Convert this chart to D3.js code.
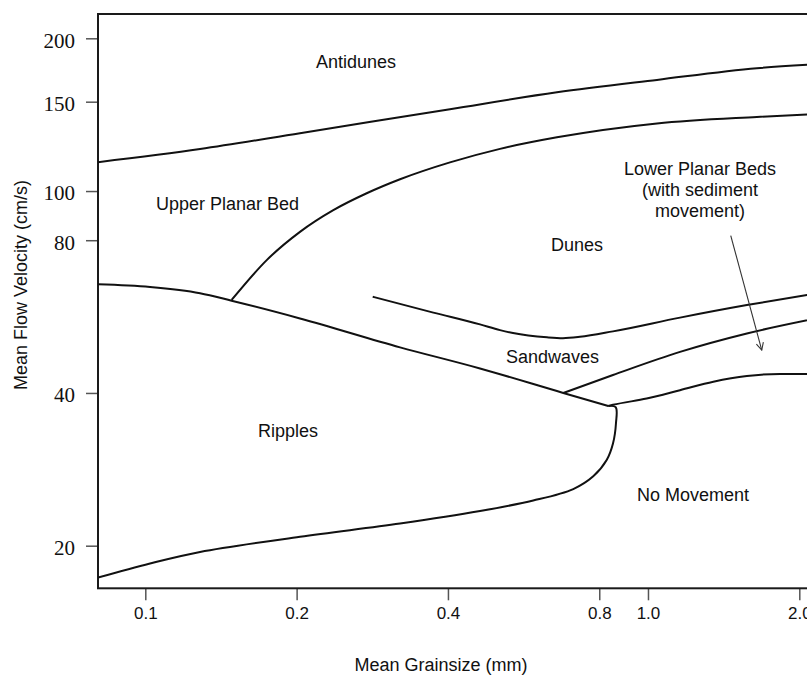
<!DOCTYPE html>
<html>
<head>
<meta charset="utf-8">
<script src="https://cdn.jsdelivr.net/npm/d3@7"></script>
<style>
  html, body { margin: 0; padding: 0; background: #fff; }
  svg { display: block; }
</style>
</head>
<body>
<svg id="chart" width="807" height="675"></svg>
<script>
// ---------- DATA ----------
// x: mean grainsize (mm), y: mean flow velocity (cm/s)
const xTickValues = [0.1, 0.2, 0.4, 0.8, 1.0, 2.0];
const xTickLabels = ["0.1", "0.2", "0.4", "0.8", "1.0", "2.0"];
const yTickValues = [20, 40, 80, 100, 150, 200];
const yTickLabels = ["20", "40", "80", "100", "150", "200"];

const antidunesBoundary = [[0.0805,114],[0.1285,121],[0.2031,130],[0.4037,145],[0.659,156.5],[1.042,165.6],[1.647,174.6],[2.2,178]];
const upperPlanarDunesBoundary = [[0.1485,61.0],[0.1744,73.1],[0.2031,83.1],[0.2366,91.7],[0.2757,99.0],[0.3212,105.5],[0.4037,113.9],[0.5077,121.1],[0.659,127.6],[1.042,135.9],[1.647,140.0],[2.2,142.0]];
const ripplesUpperBoundary = [[0.0805,65.5],[0.1022,64.7],[0.1285,62.9],[0.1485,60.8],[0.2031,56.1],[0.3212,49.2],[0.4633,44.7],[0.6785,40.0],[0.8337,37.7]];
const dunesSandwavesBoundary = [[0.2834,61.9],[0.3741,57.6],[0.4633,54.6],[0.5077,53.2],[0.5389,52.5],[0.6297,51.5],[0.6775,51.3],[0.7321,51.6],[0.8519,52.9],[1.158,56.3],[1.573,59.6],[2.072,62.4],[2.2,63.0]];
const sandwavesLowerPlanarBoundary = [[0.6785,40.0],[0.8519,43.4],[1.158,48.2],[1.573,52.4],[2.2,56.3]];
const lowerPlanarNoMovementBoundary = [[0.8337,37.7],[0.8519,37.9],[0.994,39.0],[1.158,40.5],[1.349,42.1],[1.573,43.2],[1.830,43.6],[2.2,43.6]];
const ripplesLowerBoundary = [[0.8337,37.7],[0.8625,37.5],[0.8637,34.9],[0.8519,31.8],[0.8276,29.5],[0.7783,27.4],[0.7102,25.86],[0.5912,24.55],[0.4633,23.41],[0.3212,22.12],[0.2031,20.83],[0.1285,19.44],[0.1022,18.45],[0.0805,17.3]];

const arrowFrom = [1.461, 81.7];
const arrowTo = [1.684, 48.6];

const regionLabels = [
  { lines: ["Antidunes"], at: [0.2625, 174.8] },
  { lines: ["Upper Planar Bed"], at: [0.1457, 91.7] },
  { lines: ["Dunes"], at: [0.7222, 76.2] },
  { lines: ["Lower Planar Beds", "(with sediment", "movement)"], at: [1.269, 107.6] },
  { lines: ["Sandwaves"], at: [0.6457, 45.9] },
  { lines: ["Ripples"], at: [0.1922, 32.8] },
  { lines: ["No Movement"], at: [1.229, 24.5] }
];

const xTitle = "Mean Grainsize (mm)";
const yTitle = "Mean Flow Velocity (cm/s)";

// ---------- LAYOUT ----------
const svg = d3.select("#chart");
const frame = { left: 98, top: 14, bottom: 588.3, right: 840 };

const x = d3.scaleLog().domain([0.1, 2.0]).range([145.3, 799.3]);
const y = d3.scaleLog().domain([20, 200]).range([545.7, 38.3]);

const sans = "'Liberation Sans', Arial, Helvetica, sans-serif";
const serif = "'Liberation Serif', 'Times New Roman', serif";

const defs = svg.append("defs");
defs.append("clipPath").attr("id", "plotclip")
  .append("rect")
  .attr("x", frame.left).attr("y", frame.top)
  .attr("width", frame.right - frame.left).attr("height", frame.bottom - frame.top);

defs.append("marker")
  .attr("id", "arrowhead")
  .attr("viewBox", "0 0 10 10")
  .attr("refX", 9).attr("refY", 5)
  .attr("markerWidth", 9).attr("markerHeight", 9)
  .attr("markerUnits", "userSpaceOnUse")
  .attr("orient", "auto")
  .append("path")
  .attr("d", "M1,1 L9,5 L1,9")
  .attr("fill", "none")
  .attr("stroke", "#333")
  .attr("stroke-width", 1.2);

// axes
const xAxis = d3.axisBottom(x)
  .tickValues(xTickValues)
  .tickFormat((d, i) => xTickLabels[i])
  .tickSize(12).tickSizeOuter(0).tickPadding(7);
const gx = svg.append("g").attr("transform", `translate(0,${frame.bottom})`).call(xAxis);
gx.select(".domain").remove();
gx.selectAll(".tick line").attr("stroke", "#555").attr("stroke-width", 1.5);
gx.selectAll(".tick text").attr("font-family", sans).attr("font-size", 17).attr("fill", "#111");

const yAxis = d3.axisLeft(y)
  .tickValues(yTickValues)
  .tickFormat((d, i) => yTickLabels[i])
  .tickSize(12).tickSizeOuter(0).tickPadding(11);
const gy = svg.append("g").attr("transform", `translate(${frame.left},0)`).call(yAxis);
gy.select(".domain").remove();
gy.selectAll(".tick line").attr("stroke", "#555").attr("stroke-width", 1.5);
gy.selectAll(".tick text").attr("font-family", serif).attr("font-size", 21).attr("fill", "#111").attr("dy", "0.42em");

// frame
svg.append("rect")
  .attr("x", frame.left).attr("y", frame.top)
  .attr("width", frame.right - frame.left).attr("height", frame.bottom - frame.top)
  .attr("fill", "none").attr("stroke", "#1a1a1a").attr("stroke-width", 2);

// boundaries
const lineMono = d3.line().x(d => x(d[0])).y(d => y(d[1])).curve(d3.curveMonotoneX);
const lineFree = d3.line().x(d => x(d[0])).y(d => y(d[1])).curve(d3.curveCatmullRom.alpha(0.5));
const plot = svg.append("g").attr("clip-path", "url(#plotclip)");
const boundaries = [
  [antidunesBoundary, lineMono],
  [upperPlanarDunesBoundary, lineMono],
  [ripplesUpperBoundary, lineMono],
  [dunesSandwavesBoundary, lineMono],
  [sandwavesLowerPlanarBoundary, lineMono],
  [lowerPlanarNoMovementBoundary, lineMono],
  [ripplesLowerBoundary, lineFree]
];
boundaries.forEach(([pts, gen]) => {
  plot.append("path").attr("d", gen(pts))
    .attr("fill", "none").attr("stroke", "#111").attr("stroke-width", 2)
    .attr("stroke-linejoin", "round");
});

// arrow
plot.append("line")
  .attr("x1", x(arrowFrom[0])).attr("y1", y(arrowFrom[1]))
  .attr("x2", x(arrowTo[0])).attr("y2", y(arrowTo[1]))
  .attr("stroke", "#333").attr("stroke-width", 1.1)
  .attr("marker-end", "url(#arrowhead)");

// region labels
regionLabels.forEach(lab => {
  const t = svg.append("text")
    .attr("x", x(lab.at[0])).attr("y", y(lab.at[1]))
    .attr("text-anchor", "middle")
    .attr("font-family", sans).attr("font-size", 18).attr("fill", "#111");
  lab.lines.forEach((s, i) => {
    t.append("tspan").attr("x", x(lab.at[0])).attr("dy", i === 0 ? 0 : 21).text(s);
  });
});

// axis titles
svg.append("text")
  .attr("x", 441).attr("y", 671)
  .attr("text-anchor", "middle")
  .attr("font-family", sans).attr("font-size", 18).attr("fill", "#111")
  .text(xTitle);

svg.append("text")
  .attr("transform", "translate(27,285) rotate(-90)")
  .attr("text-anchor", "middle")
  .attr("font-family", sans).attr("font-size", 18).attr("fill", "#111")
  .text(yTitle);
</script>
</body>
</html>
